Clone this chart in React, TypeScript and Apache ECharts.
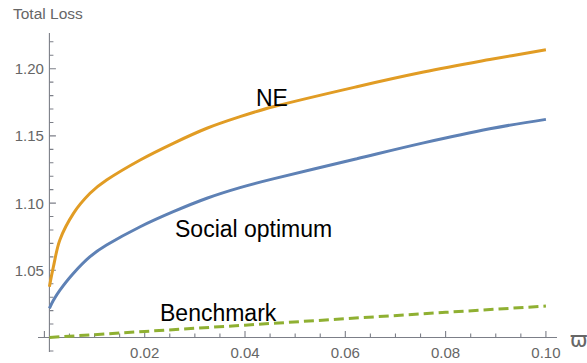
import React, { useEffect, useRef } from "react";
import * as echarts from "echarts";

// NE curve: omega (x) and total loss (y)
const neOmega = [0.001, 0.0018, 0.0031, 0.0058, 0.0091, 0.0124, 0.0191, 0.0257, 0.0324, 0.039, 0.0456, 0.0623, 0.0756, 0.0888, 0.1];
const neLoss = [1.0378, 1.0527, 1.0728, 1.0924, 1.1073, 1.1172, 1.1321, 1.1445, 1.1557, 1.1643, 1.1717, 1.1866, 1.1975, 1.2068, 1.2141];
// Social optimum curve
const socialOmega = [0.001, 0.0018, 0.0031, 0.0058, 0.0091, 0.0124, 0.0191, 0.0257, 0.0324, 0.039, 0.0456, 0.0623, 0.0756, 0.0888, 0.1];
const socialLoss = [1.0217, 1.0277, 1.0353, 1.0478, 1.0601, 1.0688, 1.0824, 1.0936, 1.1036, 1.1115, 1.118, 1.133, 1.1448, 1.1553, 1.1623];
// Benchmark
const benchOmega = [0.001, 0.02, 0.04, 0.06, 0.08, 0.1];
const benchLoss = [1.0, 1.0045, 1.0092, 1.014, 1.0187, 1.0234];

// axis ticks
const xMajorTicks = [0, 0.02, 0.04, 0.06, 0.08, 0.1];
const xTickLabels = [0.02, 0.04, 0.06, 0.08, 0.1];
const xMinorTicks = [0.005, 0.01, 0.015, 0.025, 0.03, 0.035, 0.045, 0.05, 0.055, 0.065, 0.07, 0.075, 0.085, 0.09, 0.095];
const yMajorTicks = [1.0, 1.05, 1.1, 1.15, 1.2];
const yTickLabels = [1.05, 1.1, 1.15, 1.2];
const yMinorTicks = [0.99, 1.01, 1.02, 1.03, 1.04, 1.06, 1.07, 1.08, 1.09, 1.11, 1.12, 1.13, 1.14, 1.16, 1.17, 1.18, 1.19, 1.21, 1.22];

const xRange = [-0.001276, 0.10221];
const yRange = [0.98921, 1.22656];
const xAxisCross = 1.0; // x axis drawn at this y value
const yAxisCross = 0.001; // y axis drawn at this x value

const W = 587;
const H = 363;
const GRID = { left: 38, right: 30, top: 33, bottom: 11 };
const AXIS_COLOR = "#7c7f88";
const LABEL_COLOR = "#666666";
const FONT = "'Liberation Sans', Arial, sans-serif";
const MAJOR_LEN = 6.5;
const MINOR_LEN = 4;

export default function App() {
  const ref = useRef<HTMLDivElement>(null);
  useEffect(() => {
    document.body.style.margin = "0";
    if (!ref.current) return;
    const chart = echarts.init(ref.current, undefined, { renderer: "svg" });

    const gridW = W - GRID.left - GRID.right;
    const gridH = H - GRID.top - GRID.bottom;
    const xPerPx = (xRange[1] - xRange[0]) / gridW;
    const yPerPx = (yRange[1] - yRange[0]) / gridH;

    const xTickSeg = (ticks: number[], len: number) => {
      const out: any[] = [];
      ticks.forEach((t) => {
        out.push([t, xAxisCross], [t, xAxisCross + len * yPerPx], [t, "-"]);
      });
      return out;
    };
    const yTickSeg = (ticks: number[], len: number) => {
      const out: any[] = [];
      ticks.forEach((t) => {
        out.push([yAxisCross, t], [yAxisCross + len * xPerPx, t], ["-", t]);
      });
      return out;
    };
    const axisSeries = (name: string, data: any[]) => ({
      name,
      type: "line",
      data,
      showSymbol: false,
      silent: true,
      connectNulls: false,
      clip: false,
      z: 1,
      lineStyle: { color: AXIS_COLOR, width: 1.1 },
      emphasis: { disabled: true },
    });

    chart.setOption({
      animation: false,
      grid: { ...GRID, containLabel: false, outerBoundsMode: "none" },
      xAxis: {
        type: "value",
        min: xRange[0],
        max: xRange[1],
        position: "bottom",
        splitLine: { show: false },
        axisLine: { show: false, onZero: false },
        axisTick: { show: false },
        axisLabel: { show: false },
      },
      yAxis: {
        type: "value",
        min: yRange[0],
        max: yRange[1],
        position: "left",
        splitLine: { show: false },
        axisLine: { show: false, onZero: false },
        axisTick: { show: false },
        axisLabel: { show: false },
      },
      series: [
        axisSeries("xAxisLine", [[xRange[0], xAxisCross], [xRange[1], xAxisCross]]),
        axisSeries("yAxisLine", [[yAxisCross, yRange[0]], [yAxisCross, yRange[1]]]),
        axisSeries("xMajor", xTickSeg(xMajorTicks, MAJOR_LEN)),
        axisSeries("xMinor", xTickSeg(xMinorTicks, MINOR_LEN)),
        axisSeries("yMajor", yTickSeg(yMajorTicks, MAJOR_LEN)),
        axisSeries("yMinor", yTickSeg(yMinorTicks, MINOR_LEN)),
        {
          name: "Benchmark",
          type: "line",
          data: benchOmega.map((x, i) => [x, benchLoss[i]]),
          showSymbol: false,
          z: 3,
          lineStyle: { color: "#8FB032", width: 3, type: [10, 5] },
        },
        {
          name: "Social optimum",
          type: "line",
          data: socialOmega.map((x, i) => [x, socialLoss[i]]),
          showSymbol: false,
          smooth: 0.35,
          z: 3,
          lineStyle: { color: "#5E81B5", width: 3 },
        },
        {
          name: "NE",
          type: "line",
          data: neOmega.map((x, i) => [x, neLoss[i]]),
          showSymbol: false,
          smooth: 0.35,
          z: 3,
          lineStyle: { color: "#E19C24", width: 3 },
        },
      ],
    });

    const px = (x: number, y: number) => chart.convertToPixel({ xAxisIndex: 0, yAxisIndex: 0 }, [x, y]) as number[];
    const g: any[] = [];
    const text = (x: number, y: number, t: string, fill: string, font: string, align = "left") =>
      g.push({ type: "text", z: 100, x, y, style: { text: t, fill, font, align, verticalAlign: "middle" } });

    const yLine = px(xRange[0], xAxisCross)[1];
    const xLine = px(yAxisCross, yRange[0])[0];
    xTickLabels.forEach((t) => text(px(t, xAxisCross)[0], yLine + 15, t.toFixed(2), LABEL_COLOR, `15px ${FONT}`, "center"));
    yTickLabels.forEach((t) => text(xLine - 5.5, px(yAxisCross, t)[1], t.toFixed(2), LABEL_COLOR, `15px ${FONT}`, "right"));
    text(13, 13.5, "Total Loss", LABEL_COLOR, `15.5px ${FONT}`);
    text(256, 98, "NE", "#000000", `23px ${FONT}`);
    text(175, 228.5, "Social optimum", "#000000", `23px ${FONT}`);
    text(160, 312.5, "Benchmark", "#000000", `23px ${FONT}`);
    text(570, 340, "ϖ", LABEL_COLOR, `21px 'DejaVu Sans', sans-serif`);

    chart.setOption({ graphic: { elements: g } });
    return () => chart.dispose();
  }, []);
  return <div ref={ref} style={{ width: W, height: H }} />;
}
